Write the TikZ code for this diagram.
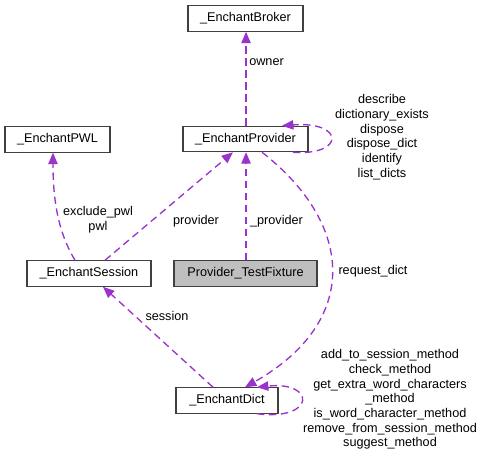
\documentclass[tikz,border=0pt]{standalone}
\usepackage{fontspec}
\setmainfont{Liberation Sans}
\usetikzlibrary{arrows.meta}
\definecolor{edgepurple}{HTML}{9A32CD}
\definecolor{boxline}{HTML}{404040}
\definecolor{boxfill}{HTML}{BFBFBF}
\begin{document}
\begin{tikzpicture}[x=0.75pt,y=-0.75pt,
  every node/.style={font=\fontsize{9.5}{11}\selectfont},
  cls/.style={draw=boxline,line width=0.9pt,fill=white,inner sep=0pt,minimum height=19pt},
  usage/.style={draw=edgepurple,line width=1pt,dash pattern=on 5.5pt off 3.5pt,
     -{Triangle[length=8.5pt,width=7pt,fill=edgepurple]}},
  lbl/.style={inner sep=0pt,align=center}]
\useasboundingbox (0,0) rectangle (485,457);
% classes
\node[cls,minimum width=86.25pt] (broker) at (245.5,18.5) {\_EnchantBroker};
\node[cls,minimum width=93.75pt] (provider) at (245.5,139) {\_EnchantProvider};
\node[cls,minimum width=78.75pt] (pwl) at (57.5,139.5) {\_EnchantPWL};
\node[cls,minimum width=93pt] (session) at (89,273.5) {\_EnchantSession};
\node[cls,fill=boxfill,minimum width=107.25pt] (fixture) at (245.5,273.5) {Provider\_TestFixture};
\node[cls,minimum width=76.5pt] (dict) at (227,400.5) {\_EnchantDict};
% helper points on the boxes
\coordinate (provSelfOut) at ([xshift=35.6pt]provider.south);
\coordinate (provSelfIn) at ([xshift=27.4pt]provider.north);
\coordinate (provToDict) at ([xshift=12.4pt]provider.south);
\coordinate (provFromSess) at ([xshift=-9.4pt]provider.south);
\coordinate (provMid1) at ([xshift=0.4pt]provider.south);
\coordinate (provMid2) at ([xshift=0.4pt]provider.north);
\coordinate (brokerMid) at ([xshift=0.4pt]broker.south);
\coordinate (fixMid) at ([xshift=0.4pt]fixture.north);
\coordinate (sessTop1) at ([xshift=12pt]session.north);
\coordinate (sessTop2) at ([xshift=-10.5pt]session.north);
\coordinate (sessBot) at ([xshift=10.5pt]session.south);
\coordinate (pwlBot) at ([xshift=-3.4pt]pwl.south);
\coordinate (dictTop1) at ([xshift=-10.5pt]dict.north);
\coordinate (dictTop2) at ([xshift=13.5pt]dict.north);
\coordinate (dictTop3) at ([xshift=22.5pt]dict.north);
\coordinate (dictBot) at ([xshift=22.5pt]dict.south);
% edges
\draw[usage] (provMid2) -- (brokerMid);
\node[lbl,anchor=west] (lowner) at (249,62) {owner};
\draw[usage] (provSelfOut) .. controls (345,156) and (345,121) .. (provSelfIn);
\node[lbl] (lprov) at (382,137) {describe\\dictionary\_exists\\dispose\\dispose\_dict\\identify\\list\_dicts};
\draw[usage] (sessTop1) -- (provFromSess);
\node[lbl] (lsessprov) at (196,221) {provider};
\draw[usage] (sessTop2) .. controls (58,232) and (53,200) .. (pwlBot);
\node[lbl] (lpwl) at (98,220) {exclude\_pwl\\pwl};
\draw[usage] (fixMid) -- (provMid1);
\node[lbl] (lfix) at (276.5,221) {\_provider};
\draw[usage] (provToDict) .. controls (355,225) and (360,322) .. (dictTop2);
\node[lbl] (lreq) at (373,271) {request\_dict};
\draw[usage] (dictTop1) -- (sessBot);
\node[lbl] (lsess) at (167,316) {session};
\draw[usage] (dictBot) .. controls (316,421) and (316,381) .. (dictTop3);
\node[lbl] (ldict) at (390,399.5) {add\_to\_session\_method\\check\_method\\get\_extra\_word\_characters\\\_method\\is\_word\_character\_method\\remove\_from\_session\_method\\suggest\_method};
\end{tikzpicture}
\end{document}
